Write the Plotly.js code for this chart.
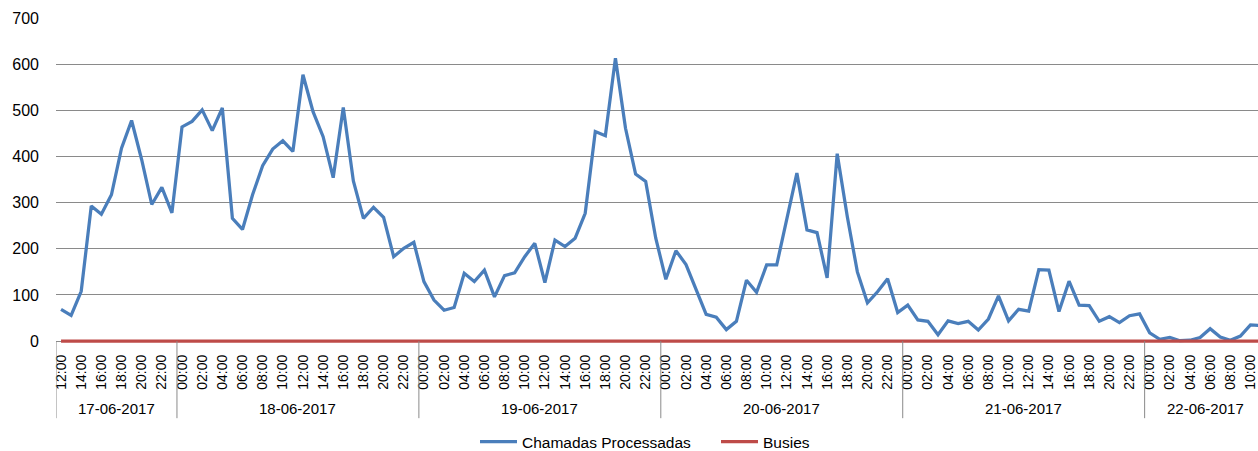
<!DOCTYPE html>
<html>
<head>
<meta charset="utf-8">
<script src="https://cdn.plot.ly/plotly-3.0.1.min.js"></script>
<style>
  html, body { margin: 0; padding: 0; background: #fff; }
  #chart { width: 1258px; height: 451px; }
</style>
</head>
<body>
<div id="chart"></div>
<script>
// ---- Data ----
const dates = ['17-06-2017', '18-06-2017', '19-06-2017', '20-06-2017', '21-06-2017', '22-06-2017'];
const hourLabels = ['00:00','01:00','02:00','03:00','04:00','05:00','06:00','07:00','08:00','09:00','10:00','11:00',
                    '12:00','13:00','14:00','15:00','16:00','17:00','18:00','19:00','20:00','21:00','22:00','23:00'];
// first and last hour index shown for each date
const dayStartHour = [12, 0, 0, 0, 0, 0];
const dayEndHour   = [23, 23, 23, 23, 23, 11];

const chamadas17 = [69, 56, 108, 293, 275, 317, 418, 478, 393, 296, 333, 278];
const chamadas18 = [464, 476, 501, 456, 505, 266, 242, 317, 380, 416, 434, 411,
                    577, 497, 443, 354, 506, 347, 266, 290, 268, 183, 201, 214];
const chamadas19 = [129, 89, 67, 73, 147, 129, 154, 96, 142, 148, 183, 212,
                    127, 219, 205, 223, 277, 454, 445, 613, 461, 362, 346, 223];
const chamadas20 = [134, 196, 166, 114, 58, 52, 25, 43, 132, 106, 165, 165,
                    262, 364, 241, 235, 137, 406, 270, 150, 83, 107, 135, 62];
const chamadas21 = [78, 46, 43, 14, 44, 38, 43, 24, 48, 98, 44, 69,
                    65, 155, 154, 64, 130, 78, 77, 43, 53, 40, 55, 59];
const chamadas22 = [18, 4, 8, 1, 2, 8, 27, 9, 2, 11, 35, 34];

const busies17 = [0,0,0,0,0,0,0,0,0,0,0,0];
const busies18 = [0,0,0,0,0,0,0,0,0,0,0,0,0,0,0,0,0,0,0,0,0,0,0,0];
const busies19 = [0,0,0,0,0,0,0,0,0,0,0,0,0,0,0,0,0,0,0,0,0,0,0,0];
const busies20 = [0,0,0,0,0,0,0,0,0,0,0,0,0,0,0,0,0,0,0,0,0,0,0,0];
const busies21 = [0,0,0,0,0,0,0,0,0,0,0,0,0,0,0,0,0,0,0,0,0,0,0,0];
const busies22 = [0,0,0,0,0,0,0,0,0,0,0,0];

// ---- Build categories ----
const cats = [], tickVals = [], tickText = [];
const dayFirstIdx = [], dayLastIdx = [];
dates.forEach((d, di) => {
  dayFirstIdx.push(cats.length);
  for (let h = dayStartHour[di]; h <= dayEndHour[di]; h++) {
    const c = d + ' ' + hourLabels[h];
    if (h % 2 === 0) { tickVals.push(c); tickText.push(hourLabels[h]); }
    cats.push(c);
  }
  dayLastIdx.push(cats.length - 1);
});
const chamadas = [].concat(chamadas17, chamadas18, chamadas19, chamadas20, chamadas21, chamadas22);
const busies = [].concat(busies17, busies18, busies19, busies20, busies21, busies22);

// ---- Layout helpers ----
const FONT = 'Liberation Sans, Arial, sans-serif';
const W = 1258, H = 451;
const plotTop = 18, plotBottom = 342.85, plotH = plotBottom - plotTop;
const py = p => (plotBottom - p) / plotH;   // pixel row -> paper y

const shapes = [];
const annotations = [];
dates.forEach((d, di) => {
  shapes.push({
    type: 'line', xref: 'x', yref: 'paper',
    x0: dayFirstIdx[di] - 0.5, x1: dayFirstIdx[di] - 0.5,
    y0: py(341), y1: py(418),
    line: { color: '#8a8a8a', width: 1 }
  });
  annotations.push({
    xref: 'x', yref: 'paper',
    x: (dayFirstIdx[di] + dayLastIdx[di]) / 2, y: py(408),
    xanchor: 'center', yanchor: 'middle',
    text: d, showarrow: false,
    font: { family: FONT, size: 15, color: '#000' }
  });
});

const traces = [
  {
    type: 'scatter', mode: 'lines', name: 'Chamadas Processadas',
    x: cats, y: chamadas,
    line: { color: '#4A7EBB', width: 3.25 }
  },
  {
    type: 'scatter', mode: 'lines', name: 'Busies',
    x: cats, y: busies,
    line: { color: '#BE4B48', width: 3.25 }
  }
];

const layout = {
  width: W, height: H,
  margin: { l: 56, r: 0, t: plotTop, b: H - plotBottom, pad: 0, autoexpand: false },
  paper_bgcolor: '#fff', plot_bgcolor: '#fff',
  showlegend: true,
  legend: {
    orientation: 'h', xref: 'container', yref: 'container',
    x: 716 / W, xanchor: 'center',
    y: (H - 442) / H, yanchor: 'middle',
    itemwidth: 37,
    entrywidth: 189,
    font: { family: FONT, size: 15.5, color: '#000' },
    bgcolor: 'rgba(0,0,0,0)'
  },
  xaxis: {
    type: 'category',
    categoryorder: 'array', categoryarray: cats,
    range: [-0.5, -0.5 + 1202 / 10.08],
    tickmode: 'array', tickvals: tickVals, ticktext: tickText,
    tickangle: -90, automargin: false,
    ticks: '', showgrid: false, zeroline: false, showline: false,
    ticklabelstandoff: 8,
    tickfont: { family: FONT, size: 14, color: '#000' }
  },
  yaxis: {
    range: [-4, 700], automargin: false,
    tickmode: 'array', tickvals: [0, 100, 200, 300, 400, 500, 600, 700],
    ticks: '', showline: false, zeroline: false,
    showgrid: true, gridcolor: '#8a8a8a', gridwidth: 1,
    ticklabelstandoff: 16,
    tickfont: { family: FONT, size: 16, color: '#000' }
  },
  shapes: shapes,
  annotations: annotations
};

Plotly.newPlot('chart', traces, layout, { displayModeBar: false, staticPlot: true });
</script>
</body>
</html>
